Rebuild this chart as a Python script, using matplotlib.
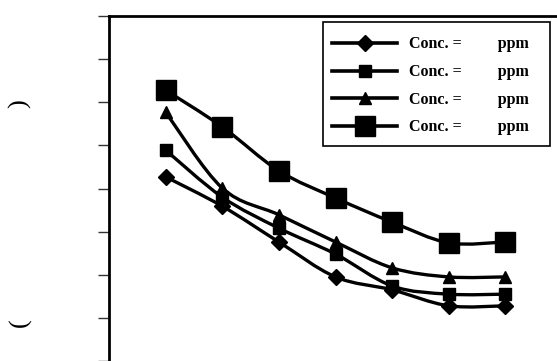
import matplotlib
matplotlib.use("Agg")
import matplotlib.pyplot as plt
from matplotlib.path import Path
from matplotlib.patches import PathPatch, Rectangle
from matplotlib.lines import Line2D

# data
x = [1, 2, 3, 4, 5, 6, 7]
conc_1 = [4.27, 3.59, 2.76, 1.95, 1.65, 1.28, 1.28]   # diamond
conc_2 = [4.89, 3.80, 3.08, 2.48, 1.74, 1.55, 1.55]   # small square
conc_3 = [5.77, 4.01, 3.39, 2.76, 2.16, 1.95, 1.95]   # triangle
conc_4 = [6.28, 5.43, 4.41, 3.78, 3.22, 2.74, 2.76]   # big square
labels = ["Conc. =         ppm"] * 4

series = [
    (conc_1, "D", 8.5),
    (conc_2, "s", 8),
    (conc_3, "^", 8),
    (conc_4, "s", 14.5),
]


def smooth_path(xs, ys, t=0.5):
    # Catmull-Rom style smoothing like the spreadsheet "smoothed line"
    verts = [(xs[0], ys[0])]
    codes = [Path.MOVETO]
    n = len(xs)
    for i in range(n - 1):
        x0, y0 = (xs[i - 1], ys[i - 1]) if i > 0 else (xs[i], ys[i])
        x1, y1 = xs[i], ys[i]
        x2, y2 = xs[i + 1], ys[i + 1]
        x3, y3 = (xs[i + 2], ys[i + 2]) if i + 2 < n else (x2, y2)
        c1 = (x1 + (x2 - x0) * t / 3, y1 + (y2 - y0) * t / 3)
        c2 = (x2 - (x3 - x1) * t / 3, y2 - (y3 - y1) * t / 3)
        verts += [c1, c2, (x2, y2)]
        codes += [Path.CURVE4] * 3
    return Path(verts, codes)


fig = plt.figure(figsize=(5.57, 3.61), dpi=100)
ax = fig.add_axes([109 / 557, 0.0, 453 / 557, 345 / 361])

handles = []
for (ys, mk, ms), lab in zip(series, labels):
    ax.add_patch(PathPatch(smooth_path(x, ys), fill=False, lw=2.4,
                           edgecolor="black", capstyle="round", joinstyle="round"))
    ax.plot(x, ys, linestyle="none", marker=mk, markersize=ms, color="black")
    handles.append(Line2D([], [], color="black", lw=2.6, marker=mk, markersize=ms))

ax.set_xlim(0, 8)
ax.set_ylim(0, 8)
ax.set_yticks(range(0, 9))
ax.set_yticklabels([])
ax.set_xticks([])
ax.tick_params(axis="y", direction="out", length=8, width=1, color="#333333")
ax.spines["left"].set_linewidth(2)
ax.spines["top"].set_linewidth(2)
ax.spines["right"].set_visible(False)
ax.spines["bottom"].set_visible(False)

# legend entries without frame, box drawn separately (padding is uneven)
fig.legend(handles, labels, loc="upper left",
           bbox_to_anchor=(332 / 557, 1 - 36.5 / 361),
           bbox_transform=fig.transFigure, borderaxespad=0, borderpad=0,
           prop={"family": "Liberation Serif", "weight": "bold", "size": 11.5},
           handlelength=4.1, handletextpad=0.75, labelspacing=0.73,
           frameon=False)
fig.patches.append(Rectangle((323 / 557, 1 - 146 / 361), 227 / 557, 124 / 361,
                             transform=fig.transFigure, fill=False,
                             edgecolor="black", linewidth=1.2))

# y label: only the brackets survive
fig.text(20 / 557, 1 - 323 / 361, "(", rotation=90, ha="center", va="center",
         fontsize=19, family="Liberation Serif")
fig.text(20 / 557, 1 - 104 / 361, ")", rotation=90, ha="center", va="center",
         fontsize=19, family="Liberation Serif")

fig.savefig("out.png", dpi=100)
